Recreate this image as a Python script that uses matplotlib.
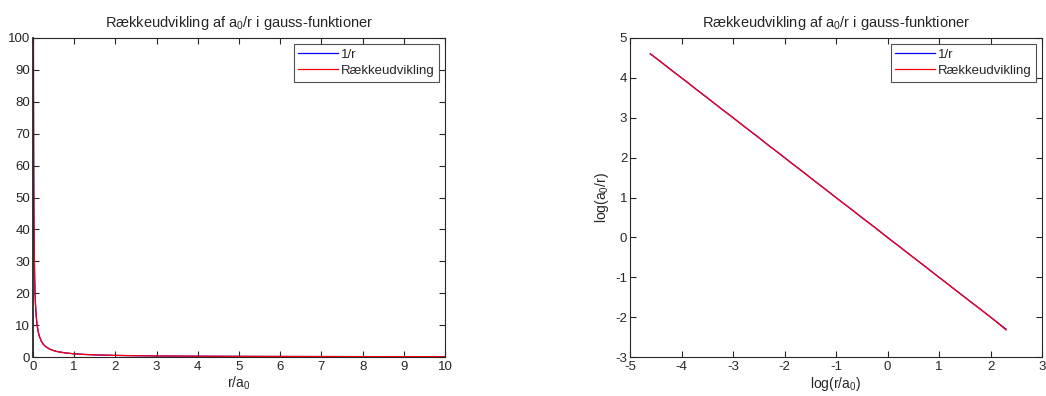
import numpy as np
import matplotlib
matplotlib.use("Agg")
import matplotlib.pyplot as plt

plt.rcParams['font.family'] = ['Liberation Sans', 'DejaVu Sans']
plt.rcParams['mathtext.fontset'] = 'custom'
plt.rcParams['mathtext.rm'] = 'Liberation Sans'
plt.rcParams['mathtext.it'] = 'Liberation Sans'
plt.rcParams['mathtext.default'] = 'rm'
plt.rcParams['axes.unicode_minus'] = False

# r / a0 sample points
r_values = [0.01, 0.012, 0.015, 0.02, 0.025, 0.03, 0.04, 0.05, 0.06, 0.08,
            0.1, 0.125, 0.15, 0.2, 0.25, 0.3, 0.4, 0.5, 0.6, 0.8,
            1.0, 1.25, 1.5, 2.0, 2.5, 3.0, 4.0, 5.0, 6.0, 8.0, 10.0]
# exact 1/r
inv_r = [100.0, 83.3, 66.7, 50.0, 40.0, 33.3, 25.0, 20.0, 16.7, 12.5,
         10.0, 8.0, 6.67, 5.0, 4.0, 3.33, 2.5, 2.0, 1.67, 1.25,
         1.0, 0.8, 0.667, 0.5, 0.4, 0.333, 0.25, 0.2, 0.167, 0.125, 0.1]
# series expansion in gaussian functions
series = [99.5, 83.6, 66.2, 50.3, 39.8, 33.5, 24.9, 20.1, 16.6, 12.6,
          9.95, 8.05, 6.64, 5.02, 3.98, 3.34, 2.49, 2.01, 1.66, 1.26,
          0.995, 0.802, 0.665, 0.502, 0.399, 0.334, 0.249, 0.2, 0.167, 0.125, 0.098]

title = 'Rækkeudvikling af a$_0$/r i gauss-funktioner'
legend_labels = ['1/r', 'Rækkeudvikling']

fig = plt.figure(figsize=(10.46, 3.96), dpi=100)
ax1 = fig.add_axes([33/1046, 1-357/396, 412/1046, 319/396])
ax2 = fig.add_axes([630/1046, 1-357/396, 412/1046, 319/396])

fs_title = 10.5
fs_tick = 9.5
fs_leg = 9.5
fs_lab = 10
txt = '#262626'

def style(ax):
    ax.tick_params(direction='in', top=True, right=True, length=4, width=0.8,
                   labelsize=fs_tick, pad=2, colors=txt)
    ax.tick_params(axis='x', pad=3)
    for s in ax.spines.values():
        s.set_linewidth(0.8)
        s.set_color(txt)

def add_legend(ax):
    leg = ax.legend(loc='upper right', fontsize=fs_leg, frameon=True, fancybox=False,
                    edgecolor=txt, handlelength=3.0, borderpad=0.35,
                    labelspacing=0.3, handletextpad=0.2, borderaxespad=0.45)
    leg.get_frame().set_linewidth(0.8)
    for t in leg.get_texts():
        t.set_color(txt)

# left plot
ax1.plot(r_values, inv_r, color='#0000ff', lw=0.9, label=legend_labels[0])
ax1.plot(r_values, series, color='#ff0000', lw=0.9, label=legend_labels[1])
ax1.set_xlim(0, 10)
ax1.set_ylim(0, 100)
ax1.set_xticks(range(0, 11))
ax1.set_yticks(range(0, 101, 10))
ax1.set_title(title, fontsize=fs_title, pad=8, color=txt)
ax1.set_xlabel('r/a$_0$', fontsize=fs_lab, labelpad=1, color=txt)
style(ax1)
ax1.spines['left'].set_linewidth(1.3)
add_legend(ax1)

# right plot (natural log)
ax2.plot(np.log(r_values), np.log(inv_r), color='#0000ff', lw=0.9, label=legend_labels[0])
ax2.plot(np.log(r_values), np.log(series), color='#ff0000', lw=0.9, label=legend_labels[1])
ax2.set_xlim(-5, 3)
ax2.set_ylim(-3, 5)
ax2.set_xticks(range(-5, 4))
ax2.set_yticks(range(-3, 6))
ax2.set_title(title, fontsize=fs_title, pad=8, color=txt)
ax2.set_xlabel('log(r/a$_0$)', fontsize=fs_lab, labelpad=1, color=txt)
ax2.set_ylabel('log(a$_0$/r)', fontsize=fs_lab, labelpad=3, color=txt)
style(ax2)
add_legend(ax2)

fig.savefig('out.png', dpi=100)
